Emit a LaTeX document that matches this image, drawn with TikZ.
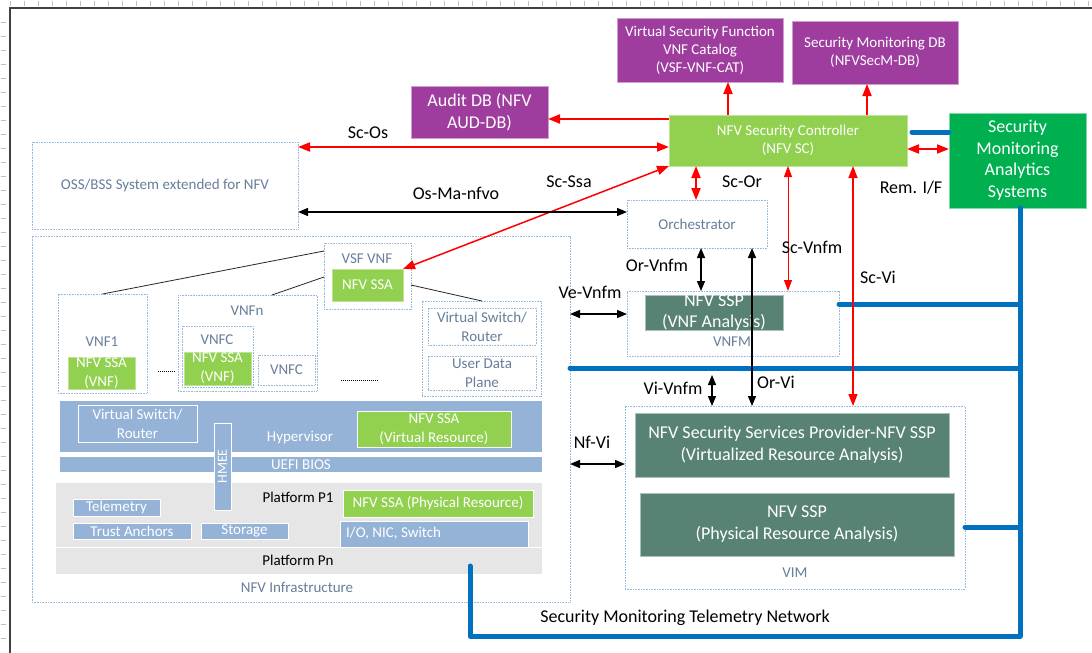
\documentclass[tikz,border=0pt]{standalone}
\usepackage{fontspec}
\setmainfont{Carlito}
\usetikzlibrary{arrows.meta}
\definecolor{purp}{RGB}{158,61,158}
\definecolor{lgreen}{RGB}{146,208,80}
\definecolor{dgreen}{RGB}{0,176,80}
\definecolor{tealc}{RGB}{88,130,116}
\definecolor{bband}{RGB}{149,179,215}
\definecolor{gband}{RGB}{231,230,230}
\definecolor{dotc}{RGB}{150,185,220}
\definecolor{lblc}{RGB}{104,126,153}
\definecolor{netc}{RGB}{0,112,192}
\definecolor{redc}{RGB}{255,0,0}
\definecolor{framec}{RGB}{64,64,64}
\newcommand\fs[2]{\fontsize{#1}{#2}\selectfont}
\newcommand\mybox[7]{\node[#6,anchor=north west,minimum width=#4pt-#2pt,minimum height=#5pt-#3pt,inner sep=0pt,outer sep=0pt] (#1) at (#2,#3) {#7};}
\begin{document}
\begin{tikzpicture}[x=1pt,y=-1pt,
  dotbox/.style={draw=dotc,dash pattern=on 0.8pt off 0.8pt,line width=0.6pt,fill=white,text=lblc,align=center,font=\fs{15}{18}},
  purpbox/.style={fill=purp,draw=purp!50!white,line width=0.6pt,text=white,align=center,font=\fs{15}{18}},
  lgbox/.style={fill=lgreen,draw=lgreen!60!white,line width=0.6pt,text=white,align=center,font=\fs{15}{18}},
  lgwbox/.style={fill=lgreen,draw=white,line width=1pt,text=white,align=center,font=\fs{15}{18}},
  dgbox/.style={fill=dgreen,draw=dgreen!50!white,line width=0.6pt,text=white,align=center,font=\fs{18}{21.5}},
  tealbox/.style={fill=tealc,draw=tealc!50!white,line width=0.6pt,text=white,align=center,font=\fs{18}{22}},
  bandbox/.style={fill=bband,draw=none,text=white,align=center,font=\fs{15}{18}},
  bwbox/.style={fill=bband,draw=white,line width=1pt,text=white,align=center,font=\fs{15}{18}},
  greybox/.style={fill=gband,draw=none},
  lbl/.style={text=lblc,font=\fs{15}{18},inner sep=0pt,align=center},
  wlbl/.style={text=white,font=\fs{15}{18},inner sep=0pt,align=center},
  blbl/.style={text=black,font=\fs{15}{18},inner sep=0pt,align=center},
  ilbl/.style={text=black,font=\fs{18}{21},inner sep=0pt},
  redarr/.style={draw=redc,line width=1.8pt,{Triangle[length=12pt,width=9pt]}-{Triangle[length=12pt,width=9pt]}},
  redone/.style={draw=redc,line width=1.8pt,-{Triangle[length=12pt,width=9pt]}},
  redthin/.style={draw=redc,line width=1pt,{Triangle[length=11pt,width=8pt]}-{Triangle[length=11pt,width=8pt]}},
  blkarr/.style={draw=black,line width=1.3pt,{Triangle[length=10pt,width=8pt]}-{Triangle[length=10pt,width=8pt]}},
  net/.style={draw=netc,line width=5pt,line cap=round,line join=round},
  thinl/.style={draw=black!85,line width=0.8pt}
]
\useasboundingbox (0,0) rectangle (1092,653);
% page frame and ruler ticks
\foreach \i in {0,...,77} \draw[black!25,line width=0.5pt] (10+\i*14,1) -- (10+\i*14,6);
\foreach \i in {1,...,45} \draw[black!25,line width=0.5pt] (1,8+\i*14) -- (6,8+\i*14);
\draw[framec,line width=2pt] (10,653) -- (10,8) -- (1092,8);

% top databases and controller
\mybox{cat}{617}{18}{783}{82}{purpbox}{Virtual Security Function\\VNF Catalog\\(VSF-VNF-CAT)}
\mybox{secdb}{792}{21}{958}{84}{purpbox}{Security Monitoring DB\\(NFVSecM-DB)}
\mybox{audit}{411}{86}{548}{138}{purpbox,font=\fs{18}{22}}{Audit DB (NFV\\AUD-DB)}
\mybox{sc}{669}{115}{907}{166}{lgbox}{NFV Security Controller\\(NFV SC)}
\mybox{smas}{949}{113}{1086}{208}{dgbox}{Security\\Monitoring\\Analytics\\Systems}

% OSS/BSS
\mybox{oss}{32}{142}{298}{229}{dotbox}{OSS/BSS System extended for NFV}

% MANO
\mybox{orch}{627}{200}{767}{248}{dotbox}{Orchestrator}
\mybox{vnfm}{627}{291}{839}{356}{dotbox}{}
\mybox{sspvnf}{645}{295}{783}{330}{tealbox,font=\fs{18}{21}}{NFV SSP\\(VNF Analysis)}
\node[lbl] (vnfmlbl) at (732,342) {VNFM};
\mybox{vim}{625}{406}{965}{589}{dotbox}{}
\mybox{sspvr}{635}{413}{949}{477}{tealbox}{NFV Security Services Provider-NFV SSP\\(Virtualized Resource Analysis)}
\mybox{ssppr}{640}{493}{954}{556}{tealbox}{NFV SSP\\(Physical Resource Analysis)}
\node[lbl] (vimlbl) at (795,573) {VIM};

% NFV infrastructure
\mybox{nfvi}{32}{236}{570}{602}{dotbox}{}
\node[lbl] (nfvilbl) at (297,587) {NFV Infrastructure};
\mybox{vsf}{324}{243}{411}{309}{dotbox}{}
\node[lbl] (vsflbl) at (367,259) {VSF VNF};
\mybox{ssa0}{332}{269}{403}{301}{lgbox}{NFV SSA}
\mybox{vnf1}{58}{294}{147}{393}{dotbox}{}
\node[lbl] (vnf1lbl) at (102,342) {VNF1};
\mybox{ssa1}{68}{357}{135}{389}{lgbox,font=\fs{15}{19}}{NFV SSA\\(VNF)}
\mybox{vnfn}{178}{295}{317}{391}{dotbox}{}
\node[lbl] (vnfnlbl) at (247,311) {VNFn};
\mybox{vnfca}{182}{326}{253}{387}{dotbox}{}
\node[lbl] (vnfcalbl) at (217,340) {VNFC};
\mybox{ssa2}{184}{352}{251}{385}{lgbox,font=\fs{15}{19}}{NFV SSA\\(VNF)}
\mybox{vnfcb}{258}{355}{315}{385}{dotbox}{VNFC}
\mybox{vsw}{422}{301}{541}{396}{dotbox}{}
\mybox{vswr}{428}{308}{536}{345}{dotbox,font=\fs{15}{19}}{Virtual Switch/\\Router}
\mybox{udp}{428}{356}{536}{390}{dotbox,font=\fs{15}{19}}{User Data\\Plane}
\coordinate (d1a) at (158,371); \coordinate (d1b) at (175,371);
\coordinate (d2a) at (341,380); \coordinate (d2b) at (379,380);
\draw[black,line width=0.7pt,dash pattern=on 1pt off 1pt] (d1a) -- (d1b);
\draw[black,line width=0.7pt,dash pattern=on 1pt off 1pt] (d2a) -- (d2b);
\draw[thinl] (vsf.west |- 0,251) -- (vnf1.north);
\draw[thinl] (vsf.west |- 0,277) -- (vnfn.north -| 272,0);
\draw[thinl] (vsf.east |- 0,285) -- (vsw.north -| 482,0);

% hypervisor and platform layers
\mybox{hyp}{60}{401}{542}{452}{bandbox}{}
\node[wlbl] (hyplbl) at (300,438) {Hypervisor};
\mybox{hvsw}{78}{405}{197}{442}{bwbox,font=\fs{15}{19}}{Virtual Switch/\\Router}
\mybox{ssavr}{357}{411}{511}{447}{lgwbox,font=\fs{15}{19}}{NFV SSA\\(Virtual Resource)}
\mybox{uefi}{60}{457}{542}{472}{bandbox}{UEFI BIOS}
\mybox{p1}{56}{483}{542}{547}{greybox}{}
\node[blbl] (p1lbl) at (298,497) {Platform P1};
\mybox{tele}{73}{499}{160}{516}{bwbox}{Telemetry}
\mybox{trust}{73}{523}{191}{539}{bwbox}{Trust Anchors}
\mybox{stor}{201}{523}{288}{539}{bwbox}{Storage}
\mybox{ssapr}{343}{490}{533}{517}{lgwbox}{NFV SSA (Physical Resource)}
\mybox{io}{340}{521}{528}{547}{bwbox}{}
\node[wlbl,anchor=west] (iolbl) at (346,533) {I/O, NIC, Switch};
\mybox{pn}{56}{548}{542}{574}{greybox}{}
\node[blbl] (pnlbl) at (298,560) {Platform Pn};
\mybox{hmee}{214}{423}{231}{510}{bwbox}{}
\node[wlbl,rotate=90,font=\fs{14}{16}] (hmeelbl) at (hmee.center) {HMEE};

% security monitoring telemetry network
\coordinate (tn) at (470,566);
\coordinate (busb) at (1020,636);
\draw[net] (tn) |- (busb) -- (smas.south -| busb);
\draw[net] (vnfm.east |- 0,304) -- (busb |- 0,304);
\draw[net] (nfvi.east |- 0,368) -- (busb |- 0,368);
\draw[net] (vim.east |- 0,527) -- (busb |- 0,527);
\draw[net] ([xshift=5pt]sc.east |- 0,132) -- (smas.west |- 0,132);
\node[ilbl] (netlbl) at (685,618) {Security Monitoring Telemetry Network};

% red security interfaces
\draw[redarr] (sc.west |- 0,147) -- (oss.east |- 0,147);
\node[ilbl] (scos) at (368,133) {Sc-Os};
\draw[redone] (sc.west |- 0,119) -- (audit.east |- 0,119);
\draw[redone] (sc.north -| 728,0) -- (cat.south -| 728,0);
\draw[redone] (sc.north -| 867,0) -- (secdb.south -| 867,0);
\draw[redarr] (sc.east |- 0,149) -- (smas.west |- 0,149);
\node[ilbl] (remif) at (911,188) {Rem. I/F};
\draw[redarr,line width=1.5pt] (sc.south west) -- (ssa0.north east);
\node[ilbl] (scssa) at (569,182) {Sc-Ssa};
\draw[redarr] (sc.south -| 696,0) -- (orch.north -| 696,0);
\node[ilbl] (scor) at (742,182) {Sc-Or};
\draw[redthin] (sc.south -| 788,0) -- (vnfm.north -| 788,0);
\node[ilbl] (scvnfm) at (812,247) {Sc-Vnfm};
\draw[redarr,line width=1.5pt] (sc.south -| 853,0) -- (vim.north -| 853,0);
\node[ilbl] (scvi) at (878,277) {Sc-Vi};

% black reference points
\draw[blkarr] (oss.east |- 0,212) -- (orch.west |- 0,212);
\node[ilbl] (osma) at (456,193) {Os-Ma-nfvo};
\draw[blkarr] (orch.south -| 701,0) -- (vnfm.north -| 701,0);
\node[ilbl] (orvnfm) at (657,265) {Or-Vnfm};
\draw[blkarr] (nfvi.east |- 0,314) -- (vnfm.west |- 0,314);
\node[ilbl] (vevnfm) at (590,292) {Ve-Vnfm};
\draw[blkarr] (orch.south -| 752,0) -- (vim.north -| 752,0);
\node[ilbl] (orvi) at (776,382) {Or-Vi};
\coordinate (vivtop) at (712,375);
\draw[blkarr] (vivtop) -- (vim.north -| vivtop);
\node[ilbl] (vivnfm) at (673,388) {Vi-Vnfm};
\draw[blkarr] (nfvi.east |- 0,464) -- (vim.west |- 0,464);
\node[ilbl] (nfvi-lbl) at (592,442) {Nf-Vi};
\end{tikzpicture}
\end{document}
